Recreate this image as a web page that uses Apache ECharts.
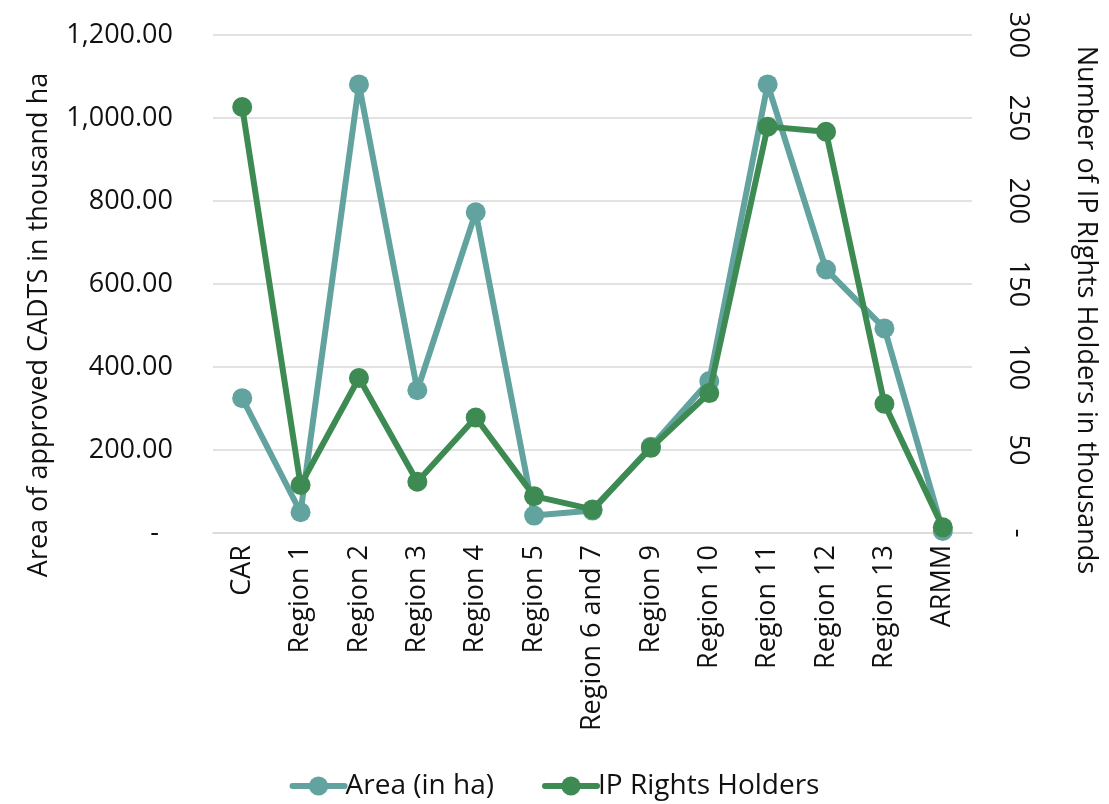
<!DOCTYPE html>
<html>
<head>
<meta charset="utf-8">
<script src="https://cdn.jsdelivr.net/npm/echarts@6/dist/echarts.min.js"></script>
<style>
  html, body { margin: 0; padding: 0; background: #ffffff; overflow: hidden; }
  #chart { width: 1109px; height: 804px; }
</style>
</head>
<body>
<div id="chart"></div>
<script>
// Regions
const categories = ['CAR', 'Region 1', 'Region 2', 'Region 3', 'Region 4', 'Region 5',
  'Region 6 and 7', 'Region 9', 'Region 10', 'Region 11', 'Region 12', 'Region 13', 'ARMM'];

// Area of approved CADTs (thousand ha)
const areaValues = [325, 50, 1081, 344, 773, 42, 54, 208, 366, 1081, 635, 493, 5];

// IP rights holders (thousands)
const holderValues = [256.6, 28.9, 93.4, 30.9, 69.6, 22.2, 14.2, 51.3, 84.3, 244.8, 241.7, 77.8, 3.4];

// Axis ticks
const leftTicks = { min: 0, max: 1200, interval: 200 };
const rightTicks = { min: 0, max: 300, interval: 50 };

const FONT = 'Open Sans';
const TEXT = '#111111';
const TEAL = '#62A39F';
const GREEN = '#3E8A53';

const chart = echarts.init(document.getElementById('chart'), null, { renderer: 'canvas' });

chart.setOption({
  backgroundColor: '#ffffff',
  animation: false,
  textStyle: { fontFamily: FONT, color: TEXT },
  grid: { left: 213, right: 137, top: 35, bottom: 271, containLabel: false, outerBoundsMode: 'none' },
  legend: {
    top: 772,
    left: 'center',
    padding: 0,
    itemWidth: 52,
    itemHeight: 24,
    itemGap: 48,
    lineStyle: { width: 6, cap: 'round' },
    textStyle: { fontFamily: FONT, fontSize: 28, color: TEXT, padding: [0, 0, 0, -4] },
    data: ['Area (in ha)', 'IP Rights Holders']
  },
  xAxis: {
    type: 'category',
    data: categories,
    boundaryGap: true,
    axisLine: { show: true, lineStyle: { color: '#d9d9d9', width: 1.5 } },
    axisTick: { show: false },
    axisLabel: { rotate: 90, fontFamily: FONT, fontSize: 27, color: TEXT, margin: 12, interval: 0 }
  },
  yAxis: [
    {
      type: 'value',
      min: leftTicks.min, max: leftTicks.max, interval: leftTicks.interval,
      name: 'Area of approved CADTS in thousand ha',
      nameLocation: 'middle',
      nameGap: 160,
      nameTextStyle: { fontFamily: FONT, fontSize: 27, color: TEXT, padding: [0, 82, 0, 0] },
      axisLine: { show: false },
      axisTick: { show: false },
      splitLine: { show: true, lineStyle: { color: '#d9d9d9', width: 1.5 } },
      axisLabel: {
        fontFamily: FONT, fontSize: 27, color: TEXT, margin: 40,
        formatter: v => v === 0 ? '-  ' :
          v.toLocaleString('en-US', { minimumFractionDigits: 2, maximumFractionDigits: 2 })
      }
    },
    {
      type: 'value',
      position: 'right',
      min: rightTicks.min, max: rightTicks.max, interval: rightTicks.interval,
      name: 'Number of IP RIghts Holders in thousands',
      nameLocation: 'middle',
      nameRotate: -90,
      nameGap: 100,
      nameTextStyle: { fontFamily: FONT, fontSize: 27, color: TEXT, padding: [0, 0, 0, 52] },
      axisLine: { show: false },
      axisTick: { show: false },
      splitLine: { show: false },
      axisLabel: {
        rotate: -90, align: 'center', verticalAlign: 'middle',
        fontFamily: FONT, fontSize: 27, color: TEXT, margin: 46,
        formatter: v => v === 0 ? '-' : String(v)
      }
    }
  ],
  series: [
    {
      name: 'Area (in ha)',
      type: 'line',
      yAxisIndex: 0,
      data: areaValues,
      symbol: 'circle',
      symbolSize: 20,
      itemStyle: { color: TEAL },
      lineStyle: { color: TEAL, width: 6 },
      z: 2
    },
    {
      name: 'IP Rights Holders',
      type: 'line',
      yAxisIndex: 1,
      data: holderValues,
      symbol: 'circle',
      symbolSize: 20,
      itemStyle: { color: GREEN },
      lineStyle: { color: GREEN, width: 6 },
      z: 3
    }
  ]
});
</script>
</body>
</html>
